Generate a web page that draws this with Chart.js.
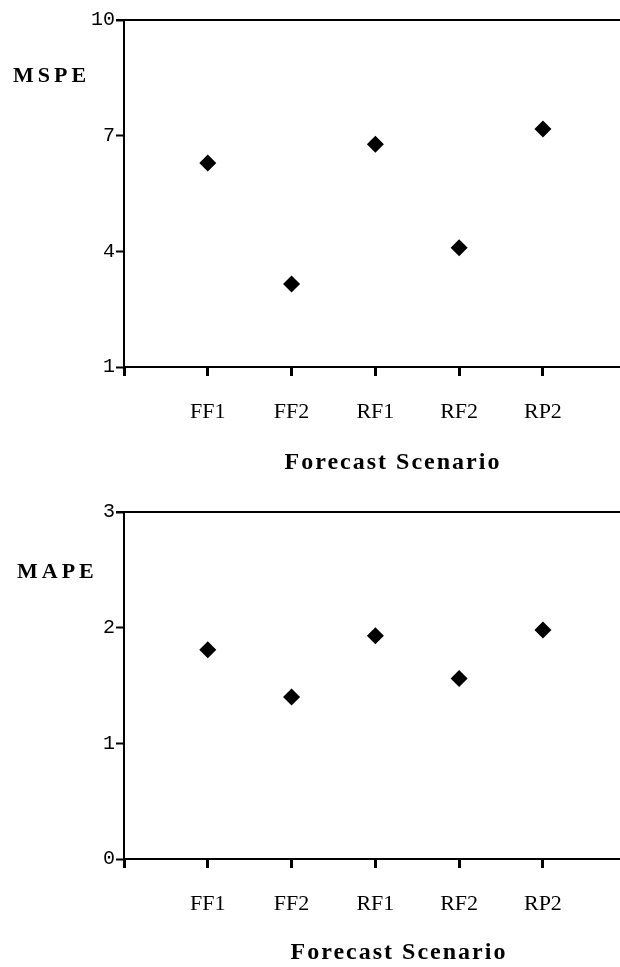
<!DOCTYPE html>
<html>
<head>
<meta charset="utf-8">
<script src="https://cdn.jsdelivr.net/npm/chart.js@4.4.1/dist/chart.umd.min.js"></script>
<style>
  html, body { margin: 0; padding: 0; background: #fff; overflow: hidden; }
  .box { position: relative; width: 620px; }
  #b1 { height: 490px; }
  #b2 { height: 477px; }
</style>
</head>
<body>
<div class="box" id="b1"><canvas id="c1"></canvas></div>
<div class="box" id="b2"><canvas id="c2"></canvas></div>
<script>
const categories = ['FF1', 'FF2', 'RF1', 'RF2', 'RP2'];
const mspeValues = [6.29, 3.15, 6.78, 4.09, 7.17];
const mapeValues = [1.81, 1.40, 1.93, 1.56, 1.98];
const mspeTicks = [1, 4, 7, 10];
const mapeTicks = [0, 1, 2, 3];
const xTickPositions = [0, 1, 2, 3, 4, 5];
const xAxisTitle = 'Forecast Scenario';

const decor = {
  id: 'decor',
  afterDraw(chart, args, opts) {
    const ctx = chart.ctx;
    const a = chart.chartArea;
    ctx.save();
    ctx.strokeStyle = '#000';
    ctx.lineWidth = 2;
    ctx.beginPath();
    ctx.moveTo(a.left - 8, a.top);
    ctx.lineTo(a.right, a.top);
    ctx.stroke();
    ctx.fillStyle = '#000';
    ctx.letterSpacing = '4px';
    ctx.font = 'bold 22px "Liberation Serif", serif';
    ctx.textAlign = 'left';
    ctx.textBaseline = 'middle';
    ctx.fillText(opts.yLabel, opts.yLabelX, a.top + opts.yLabelDy);
    ctx.letterSpacing = '2px';
    ctx.font = 'bold 24px "Liberation Serif", serif';
    ctx.textAlign = 'center';
    ctx.fillText(xAxisTitle, opts.titleX, a.bottom + opts.titleDy);
    ctx.restore();
  }
};

function makeChart(id, values, yTicks, yMin, yMax, topPad, xAxisH, decorOpts) {
  return new Chart(document.getElementById(id), {
    type: 'scatter',
    data: {
      datasets: [{
        data: categories.map((c, i) => ({ x: i + 1, y: values[i] })),
        pointStyle: 'rectRot',
        pointRadius: 8.5,
        pointHoverRadius: 8.5,
        backgroundColor: '#000',
        borderColor: '#000',
        borderWidth: 0,
        showLine: false
      }]
    },
    options: {
      responsive: true,
      maintainAspectRatio: false,
      animation: false,
      events: [],
      layout: { autoPadding: false, padding: { top: topPad, left: 0, right: 0, bottom: 0 } },
      plugins: {
        legend: { display: false },
        tooltip: { enabled: false },
        decor: decorOpts
      },
      scales: {
        x: {
          type: 'linear',
          min: 0,
          max: 5.92,
          afterBuildTicks: s => { s.ticks = xTickPositions.map(v => ({ value: v })); },
          afterFit: s => { s.height = xAxisH; s.paddingRight = 0; s.paddingLeft = 0; },
          ticks: {
            callback: v => (v >= 1 && v <= categories.length) ? categories[v - 1] : '',
            font: { family: '"Liberation Serif", serif', size: 22 },
            color: '#000',
            padding: 23,
            maxRotation: 0,
            autoSkip: false
          },
          grid: { drawOnChartArea: false, drawTicks: true, tickLength: 9, tickWidth: 3, color: '#000' },
          border: { display: true, color: '#000', width: 2 }
        },
        y: {
          type: 'linear',
          min: yMin,
          max: yMax,
          afterBuildTicks: s => { s.ticks = yTicks.map(v => ({ value: v })); },
          afterFit: s => { s.width = 124; s.paddingTop = 0; s.paddingBottom = 0; },
          ticks: {
            font: { family: '"Liberation Mono", monospace', size: 20 },
            color: '#000',
            padding: 1
          },
          grid: { drawOnChartArea: false, drawTicks: true, tickLength: 8, tickWidth: 2, color: '#000' },
          border: { display: true, color: '#000', width: 2 }
        }
      }
    },
    plugins: [decor]
  });
}

makeChart('c1', mspeValues, mspeTicks, 1, 10, 20, 123,
  { yLabel: 'MSPE', yLabelX: 13, yLabelDy: 56, titleX: 393, titleDy: 96 });
makeChart('c2', mapeValues, mapeTicks, 0, 3, 22, 108,
  { yLabel: 'MAPE', yLabelX: 17, yLabelDy: 60, titleX: 399, titleDy: 94 });
</script>
</body>
</html>
